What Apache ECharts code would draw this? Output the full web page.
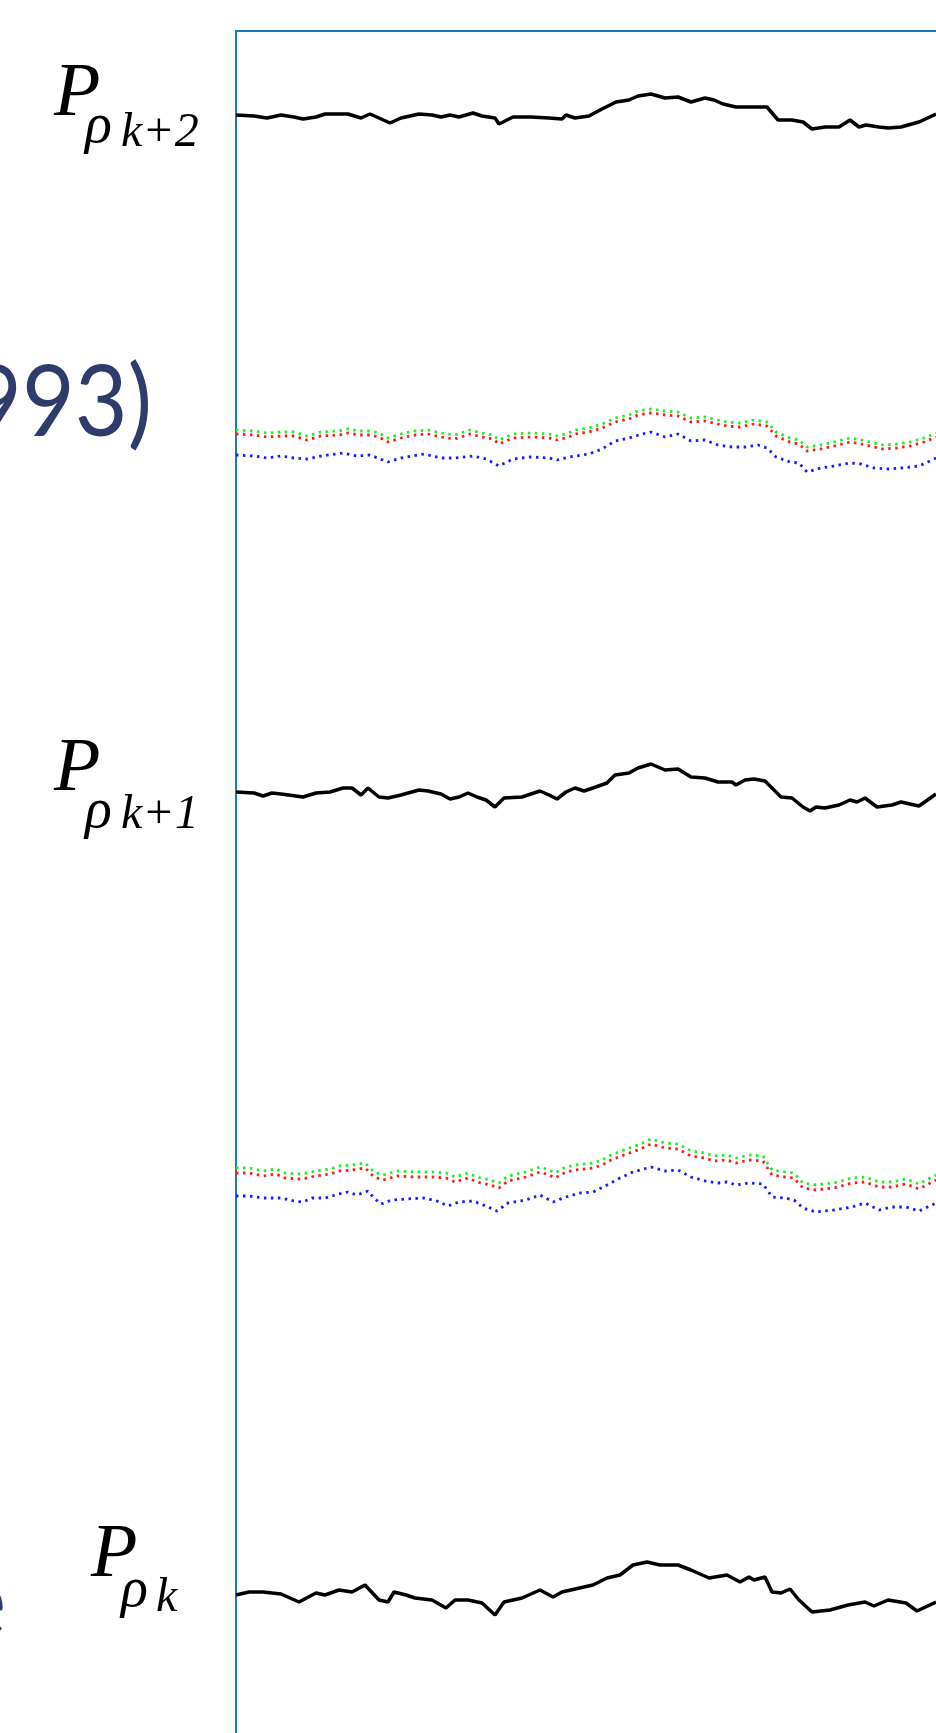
<!DOCTYPE html>
<html>
<head>
<meta charset="utf-8">
<script src="https://cdn.jsdelivr.net/npm/echarts@6/dist/echarts.min.js"></script>
<style>
  html, body { margin: 0; padding: 0; background: #fff; }
  #chart { width: 936px; height: 1733px; }
</style>
</head>
<body>
<div id="chart"></div>
<script>
// t = sample position along the trace, v = trace level
const blackTop = [[0,1628],[1.8,1627],[3.1,1625],[4.5,1628],[5.8,1626],[6.7,1624],[8,1626],[8.9,1629],[11.2,1629],[12.5,1625],[13.4,1629],[14.3,1625],[15.4,1620],[16.5,1625],[18.3,1629],[19.6,1628],[20.5,1626],[21.4,1628],[22.3,1626],[23.7,1630],[24.6,1627],[25.9,1625],[26.3,1619],[27.7,1626],[29.5,1626],[31.3,1625],[32.6,1624],[33,1628],[33.9,1625],[35.3,1627],[36.6,1634],[38,1641],[39.3,1643],[40.2,1647],[41.5,1649],[42.9,1645],[44.2,1646],[45.5,1641],[46.9,1645],[47.8,1643],[48.7,1639],[50,1636],[51.3,1636],[53.1,1636],[54.2,1623],[55.6,1623],[56.7,1621],[57.6,1614],[58.9,1616],[60.3,1616],[61.4,1623],[62.3,1616],[63,1618],[64.3,1616],[65.2,1615],[66.5,1616],[68.3,1621],[70,1629]];

const green1 = [[0,1313],[1.8,1312],[3.1,1310],[4.5,1311],[5.8,1311],[7.1,1307],[8.5,1311],[10.3,1312],[11.2,1314],[12.3,1312],[13.4,1312],[14.3,1310],[15.2,1305],[16.5,1309],[17.9,1312],[19.2,1313],[20.5,1310],[21.9,1308],[23.4,1313],[24.6,1310],[25.7,1308],[26.3,1303],[27.7,1309],[29.5,1310],[31.3,1309],[32.1,1307],[33.3,1310],[33.9,1313],[35.3,1315],[36.6,1319],[37.9,1325],[39.3,1328],[40.2,1332],[41.5,1334],[42.9,1332],[44.2,1331],[45.5,1325],[46.9,1326],[48.2,1323],[49.1,1321],[50.4,1320],[51.8,1323],[53.1,1321],[54,1311],[55.4,1305],[56.3,1303],[57.1,1296],[58.5,1298],[59.8,1301],[61.4,1305],[62.5,1303],[63.4,1301],[64.7,1298],[66.1,1299],[67.4,1301],[68.8,1305],[70,1310]];

const red1 = [[0,1309],[1.8,1308],[3.1,1306],[4.5,1307],[5.8,1307],[7.1,1303],[8.5,1307],[10.3,1308],[11.2,1310],[12.3,1308],[13.4,1308],[14.3,1306],[15.2,1301],[16.5,1305],[17.9,1308],[19.2,1309],[20.5,1306],[21.9,1304],[23.4,1309],[24.6,1306],[25.7,1304],[26.3,1299],[27.7,1305],[29.5,1306],[31.3,1305],[32.1,1303],[33.3,1306],[33.9,1309],[35.3,1311],[36.6,1315],[37.9,1321],[39.3,1324],[40.2,1328],[41.5,1330],[42.9,1328],[44.2,1327],[45.5,1321],[46.9,1322],[48.2,1319],[49.1,1317],[50.4,1316],[51.8,1319],[53.1,1317],[54,1307],[55.4,1301],[56.3,1299],[57.1,1292],[58.5,1294],[59.8,1297],[61.4,1301],[62.5,1299],[63.4,1297],[64.7,1294],[66.1,1295],[67.4,1297],[68.8,1301],[70,1306]];

const blue1 = [[0,1288],[1.8,1287],[3.1,1285],[4.5,1287],[5.8,1285],[7.1,1284],[8.5,1287],[10.7,1290],[12.1,1287],[13.4,1288],[15.2,1281],[16.5,1285],[18.8,1289],[20.5,1285],[21.9,1285],[23.7,1287],[25,1284],[26.3,1277],[27.7,1284],[29.5,1286],[31.3,1285],[32.1,1283],[33.3,1286],[35.3,1289],[36.6,1294],[37.9,1302],[39.3,1305],[40.6,1309],[41.5,1311],[42.9,1306],[44.2,1309],[45.5,1302],[46.9,1303],[48.2,1298],[49.6,1296],[50.9,1296],[52.2,1298],[53.1,1295],[54,1286],[55.4,1281],[56.3,1280],[57.1,1271],[58.5,1275],[59.8,1277],[61.4,1280],[62.5,1279],[63.8,1275],[65.2,1274],[66.5,1275],[68.3,1277],[70,1285]];

const blackMid = [[0,951],[1.8,950],[2.7,947],[3.6,950],[4.5,949],[6.7,946],[8,950],[9.4,951],[10.7,955],[11.6,955],[12.5,948],[13.2,955],[14.3,946],[15.2,945],[16.5,948],[18.3,953],[19.2,952],[20.5,949],[21.4,944],[22.3,946],[23.2,950],[24.1,946],[25,943],[25.9,936],[26.8,945],[28.6,946],[30.4,952],[31.3,948],[32.1,944],[33,951],[33.9,955],[34.8,952],[35.7,955],[37.1,960],[37.9,968],[39.3,970],[40.2,975],[41.5,979],[42.9,973],[44.2,974],[45.5,966],[46.9,965],[48.2,961],[49.6,961],[50,958],[50.9,963],[51.8,964],[52.9,962],[53.6,955],[54.5,946],[55.6,945],[56.7,936],[57.4,932],[58,936],[58.9,935],[60.3,938],[61.4,943],[62.1,941],[62.9,945],[64.1,936],[65.6,938],[66.5,941],[68.3,937],[70,949]];

const green2 = [[0,575],[1.3,575],[2.7,572],[4,574],[4.9,570],[6.3,569],[7.1,570],[8,572],[9.4,574],[10.3,577],[11.6,578],[12.9,580],[13.8,571],[14.7,568],[16.1,572],[17.9,571],[19.6,571],[21,570],[21.9,566],[23.2,570],[24.1,566],[25.4,563],[26.3,560],[27.2,567],[29,571],[30.4,576],[31.3,573],[31.9,570],[33,576],[33.9,578],[35.7,580],[36.6,583],[37.5,588],[38.8,593],[40.2,598],[41.5,604],[42.9,600],[44.2,599],[45.5,592],[46.9,590],[47.8,587],[49.1,588],[50,585],[51.3,588],[52.7,587],[53.6,573],[54.9,571],[55.8,570],[56.7,560],[58,558],[59.8,560],[61.6,565],[62.9,566],[64.3,561],[65.6,561],[67,564],[68.3,559],[70,568]];

const red2 = [[0,570],[1.3,570],[2.7,567],[4,569],[4.9,565],[6.3,564],[7.1,565],[8,567],[9.4,569],[10.3,572],[11.6,573],[12.9,575],[13.8,566],[14.7,563],[16.1,567],[17.9,566],[19.6,566],[21,565],[21.9,561],[23.2,565],[24.1,561],[25.4,558],[26.3,555],[27.2,562],[29,566],[30.4,571],[31.3,568],[31.9,565],[33,571],[33.9,573],[35.7,575],[36.6,578],[37.5,583],[38.8,588],[40.2,593],[41.5,599],[42.9,595],[44.2,594],[45.5,587],[46.9,585],[47.8,582],[49.1,583],[50,580],[51.3,583],[52.7,582],[53.6,568],[54.9,566],[55.8,565],[56.7,555],[58,553],[59.8,555],[61.6,560],[62.9,561],[64.3,556],[65.6,556],[67,559],[68.3,554],[70,563]];

const blue2 = [[0,547],[1.3,547],[2.7,545],[4.5,545],[5.8,542],[6.7,541],[7.6,545],[8.9,545],[10.3,549],[11.2,551],[12.1,548],[13.2,552],[13.8,545],[14.5,539],[15.6,543],[17,544],[18.8,545],[20.1,542],[21.2,537],[22.3,541],[23.7,542],[25,537],[26.1,532],[27.2,540],[29,543],[30.4,548],[31.7,541],[33,546],[34.4,550],[35.7,551],[37.1,558],[38.4,565],[39.7,571],[41.5,576],[42.9,572],[44.2,573],[45.5,566],[46.9,562],[48.2,560],[49.1,561],[50,558],[51.3,560],[52.7,559],[53.6,546],[54.9,545],[55.8,543],[56.7,535],[58,531],[59.8,533],[61.6,536],[62.9,540],[64.3,533],[65.6,536],[67,536],[68.3,532],[70,540]];

const blackBot = [[0,148],[1.3,151],[2.7,151],[4.5,149],[6.3,141],[8,150],[8.9,148],[10.3,153],[11.6,151],[12.9,158],[14.3,143],[15.2,141],[15.8,151],[17,148],[17.9,145],[19.6,143],[21,135],[21.9,143],[23.2,143],[24.6,140],[25.9,128],[26.8,141],[28.6,145],[30.4,153],[31.7,146],[32.6,151],[34.8,156],[35.7,158],[37.1,165],[38.4,168],[39.7,178],[41.1,181],[42.4,178],[44.2,178],[45.5,173],[47.3,165],[49.1,168],[50.4,161],[51.3,166],[51.8,163],[52.9,166],[53.6,151],[54.5,150],[55.4,154],[56.3,143],[57.6,131],[59.4,133],[61.2,138],[62.9,141],[63.8,137],[65.2,143],[67,140],[68.1,132],[70,141]];

const chart = echarts.init(document.getElementById('chart'));

const solid = (data) => ({
  type: 'line', data: data, showSymbol: false, silent: true,
  lineStyle: { color: '#000', width: 3.5 }
});
const dotted = (data, color) => ({
  type: 'line', data: data, showSymbol: false, silent: true,
  lineStyle: { color: color, width: 2.8, type: [2.5, 4.5] }
});

const serif = '"Liberation Serif", "DejaVu Serif", serif';
const sans = 'Lato, "Open Sans", sans-serif';
function txt(x, y, text, font, color, align, scaleX) {
  return {
    type: 'text', x: x, y: y, scaleX: scaleX || 1,
    style: {
      text: text, font: font, fill: color || '#000',
      align: align || 'left', verticalAlign: 'middle',
      textAlign: align || 'left', textVerticalAlign: 'middle'
    }
  };
}
function mathLabel(xP, yP, xR, yR, xS, yS, sub) {
  return [
    txt(xP, yP, 'P', 'italic 76px ' + serif),
    txt(xR, yR, 'ρ', 'italic 56px ' + serif),
    txt(xS, yS, sub, 'italic 48px ' + serif)
  ];
}

const option = {
  animation: false,
  grid: {
    left: 236, top: 31, right: -10, bottom: -10,
    outerBoundsMode: 'none',
    show: true, borderColor: '#1F77C4', borderWidth: 2,
    backgroundColor: 'transparent'
  },
  xAxis: { type: 'value', min: 0, max: 71, show: false },
  yAxis: { type: 'value', min: 0, max: 1712, show: false },
  series: [
    solid(blackTop),
    dotted(blue1, '#1a1aff'),
    dotted(red1, '#ff1a1a'),
    dotted(green1, '#22ee22'),
    solid(blackMid),
    dotted(blue2, '#1a1aff'),
    dotted(red2, '#ff1a1a'),
    dotted(green2, '#22ee22'),
    solid(blackBot)
  ],
  graphic: [].concat(
    mathLabel(54, 95, 85, 127, 121, 133, 'k+2'),
    mathLabel(54, 770, 85, 812, 121, 815, 'k+1'),
    mathLabel(91, 1556, 121, 1591, 156, 1598, 'k'),
    [
      txt(152, 404, '993)', '98px ' + sans, '#2E3B6B', 'right', 0.93),
      txt(6, 1604, 'e', '98px ' + sans, '#2E3B6B', 'right', 0.93)
    ]
  )
};

chart.setOption(option);
</script>
</body>
</html>
